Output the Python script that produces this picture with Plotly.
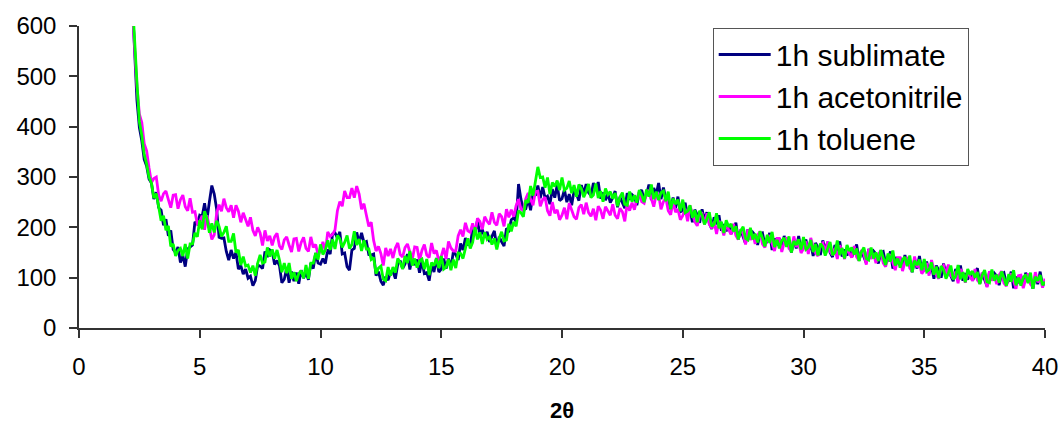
import numpy as np
import plotly.graph_objects as go

# 2-theta scan grid: 2.2 .. 40.0 deg, step 0.1
start_2theta = 2.2
step_2theta = 0.1

sublimate = [
    655, 548, 452, 398, 372, 335, 322, 296,
    288, 256, 270, 239, 234, 204, 216, 183, 194, 156,
    150, 161, 130, 144, 122, 157, 161, 165, 211, 207,
    224, 222, 248, 216, 251, 283, 266, 236, 180, 178,
    179, 152, 135, 155, 138, 150, 117, 124, 107, 117,
    99, 103, 84, 94, 125, 123, 118, 152, 141, 155,
    152, 126, 134, 124, 90, 97, 119, 90, 112, 93,
    110, 88, 115, 99, 110, 96, 129, 118, 149, 129,
    127, 138, 128, 156, 147, 187, 189, 179, 191, 147,
    149, 122, 115, 155, 158, 190, 169, 189, 170, 172,
    146, 145, 147, 104, 112, 93, 85, 102, 95, 112,
    112, 98, 127, 134, 118, 127, 147, 116, 141, 125,
    136, 110, 133, 108, 110, 94, 126, 111, 139, 111,
    117, 138, 118, 138, 120, 151, 146, 135, 168, 155,
    179, 166, 165, 196, 190, 214, 184, 196, 180, 191,
    171, 181, 193, 161, 181, 171, 163, 198, 194, 215,
    219, 211, 286, 256, 235, 237, 257, 234, 268, 263,
    283, 258, 280, 258, 262, 246, 276, 259, 284, 253,
    257, 275, 250, 266, 244, 273, 266, 253, 284, 267,
    286, 269, 263, 288, 274, 290, 257, 269, 254, 267,
    249, 259, 272, 240, 260, 249, 238, 268, 255, 265,
    260, 244, 269, 274, 255, 265, 285, 254, 278, 265,
    288, 256, 279, 256, 258, 236, 259, 238, 261, 231,
    233, 249, 223, 236, 210, 235, 225, 209, 236, 215,
    230, 208, 197, 220, 206, 224, 193, 206, 192, 205,
    187, 197, 209, 176, 195, 181, 168, 196, 181, 190,
    184, 165, 187, 189, 166, 172, 189, 155, 178, 164,
    178, 157, 183, 163, 168, 150, 176, 158, 183, 155,
    159, 176, 152, 168, 143, 169, 160, 145, 174, 154,
    171, 150, 141, 165, 153, 172, 142, 156, 144, 158,
    141, 152, 166, 134, 154, 141, 129, 157, 143, 153,
    147, 128, 150, 152, 129, 135, 152, 118, 141, 127,
    140, 119, 145, 125, 130, 111, 137, 118, 143, 114,
    115, 132, 108, 123, 98, 124, 115, 100, 128, 108,
    124, 103, 93, 117, 104, 124, 94, 109, 96, 111,
    94, 106, 119, 88, 108, 96, 83, 112, 99, 109,
    103, 85, 107, 110, 88, 94, 112, 79, 102, 89,
    104, 83, 110, 91, 96, 78, 105, 87, 112, 84,
    90,
]

acetonitrile = [
    640, 552, 480, 425, 408, 366, 352, 318,
    289, 297, 300, 264, 252, 267, 272, 255, 239, 264,
    265, 237, 255, 264, 241, 233, 258, 230, 231, 207,
    211, 223, 195, 224, 197, 176, 185, 228, 245, 232,
    257, 239, 231, 244, 219, 244, 232, 210, 229, 214,
    202, 220, 194, 183, 200, 189, 164, 194, 173, 183,
    164, 181, 188, 163, 156, 175, 181, 165, 151, 177,
    178, 152, 170, 180, 158, 152, 181, 160, 166, 145,
    154, 171, 152, 191, 182, 186, 195, 233, 251, 242,
    272, 259, 259, 278, 259, 282, 266, 236, 247, 224,
    202, 210, 174, 153, 162, 148, 124, 159, 143, 157,
    139, 159, 169, 146, 141, 160, 167, 151, 136, 161,
    160, 134, 154, 166, 145, 140, 169, 148, 154, 133,
    142, 159, 137, 172, 159, 153, 153, 183, 195, 182,
    209, 193, 190, 208, 188, 218, 212, 196, 221, 212,
    206, 230, 210, 204, 227, 221, 202, 236, 220, 235,
    221, 243, 256, 236, 234, 257, 268, 256, 244, 271,
    272, 242, 255, 260, 233, 223, 250, 228, 235, 215,
    224, 239, 216, 248, 232, 221, 216, 239, 245, 226,
    249, 229, 222, 237, 214, 242, 234, 217, 241, 231,
    224, 246, 224, 217, 238, 231, 212, 248, 233, 249,
    235, 257, 271, 251, 248, 268, 274, 257, 241, 265,
    265, 236, 251, 258, 233, 225, 252, 230, 236, 215,
    223, 237, 212, 243, 224, 211, 203, 224, 227, 206,
    228, 206, 198, 211, 187, 213, 203, 184, 205, 194,
    186, 207, 184, 176, 196, 188, 166, 196, 175, 186,
    167, 184, 192, 167, 160, 178, 184, 168, 153, 178,
    178, 151, 169, 180, 158, 153, 182, 161, 169, 149,
    158, 172, 147, 179, 161, 149, 143, 165, 169, 150,
    172, 152, 145, 159, 137, 164, 155, 137, 159, 148,
    140, 163, 141, 134, 155, 147, 126, 157, 137, 148,
    129, 146, 154, 129, 122, 140, 146, 130, 115, 140,
    140, 113, 131, 141, 119, 113, 142, 121, 128, 108,
    115, 129, 104, 135, 117, 105, 98, 120, 124, 104,
    126, 105, 98, 112, 89, 117, 108, 90, 112, 102,
    94, 117, 95, 89, 110, 103, 81, 113, 94, 105,
    87, 105, 113, 89, 83, 101, 108, 93, 78, 104,
    105, 79, 97, 108, 87, 82, 111, 91, 99, 80,
    98,
]

toluene = [
    662, 560, 488, 410, 383, 345, 326, 300,
    288, 258, 267, 241, 213, 223, 194, 203, 162, 167,
    143, 154, 158, 143, 167, 138, 167, 167, 189, 181,
    214, 196, 232, 217, 189, 208, 190, 213, 202, 182,
    190, 202, 172, 172, 188, 150, 155, 125, 142, 123,
    125, 110, 124, 104, 129, 145, 129, 131, 160, 142,
    156, 138, 155, 135, 111, 129, 109, 129, 98, 111,
    93, 108, 114, 99, 125, 98, 129, 129, 149, 136,
    166, 146, 155, 174, 155, 176, 157, 184, 177, 160,
    170, 184, 158, 166, 192, 165, 177, 153, 174, 157,
    157, 136, 140, 108, 119, 123, 97, 94, 121, 104,
    121, 110, 138, 130, 117, 143, 129, 153, 124, 138,
    120, 134, 137, 117, 137, 105, 130, 124, 138, 119,
    143, 117, 121, 136, 115, 136, 119, 149, 148, 138,
    156, 178, 158, 170, 200, 176, 190, 167, 190, 176,
    181, 166, 178, 156, 178, 191, 173, 175, 207, 192,
    211, 202, 233, 229, 221, 254, 249, 282, 263, 291,
    320, 299, 300, 279, 299, 266, 289, 281, 293, 274,
    299, 274, 278, 292, 268, 284, 261, 285, 277, 260,
    271, 286, 259, 264, 287, 258, 272, 251, 277, 265,
    271, 257, 268, 242, 260, 269, 246, 244, 271, 251,
    264, 249, 274, 264, 250, 275, 261, 285, 256, 271,
    254, 269, 272, 252, 271, 236, 257, 246, 255, 232,
    255, 229, 232, 244, 219, 234, 210, 233, 224, 206,
    216, 230, 202, 206, 228, 198, 211, 189, 214, 201,
    207, 192, 202, 176, 193, 201, 178, 175, 199, 176,
    187, 170, 192, 179, 162, 185, 169, 191, 161, 175,
    158, 174, 179, 161, 182, 150, 173, 165, 176, 156,
    181, 156, 160, 175, 151, 167, 144, 168, 161, 144,
    156, 171, 145, 150, 174, 145, 159, 138, 165, 153,
    160, 146, 158, 133, 151, 160, 138, 135, 160, 138,
    150, 133, 155, 142, 125, 148, 132, 154, 124, 138,
    120, 136, 141, 123, 144, 111, 134, 125, 136, 115,
    137, 112, 116, 130, 106, 122, 99, 123, 115, 98,
    109, 124, 97, 102, 125, 97, 111, 91, 117, 106,
    113, 100, 111, 87, 105, 115, 92, 90, 116, 94,
    106, 90, 112, 100, 84, 107, 92, 115, 85, 100,
    84, 100, 106, 89, 110, 78, 102, 94, 105, 85,
    92,
]

series_names = ["1h sublimate", "1h acetonitrile", "1h toluene"]
series_colors = ["#000080", "#FF00FF", "#00FF00"]
x_ticks = [0, 5, 10, 15, 20, 25, 30, 35, 40]
y_ticks = [0, 100, 200, 300, 400, 500, 600]

fig = go.Figure()
for i, (name, ys, col) in enumerate(zip(series_names, [sublimate, acetonitrile, toluene], series_colors)):
    xs = np.round(start_2theta + step_2theta * np.arange(len(ys)), 1)
    fig.add_trace(go.Scatter(
        x=xs, y=ys, mode="lines", name=name,
        line=dict(color=col, width=2.8),
        legendgroup=f"g{i}",
    ))

FONT = "Liberation Sans, Arial, sans-serif"
axis_font = dict(family=FONT, size=24, color="#000")

fig.update_layout(
    width=1063, height=425,
    margin=dict(l=79, r=18, t=26, b=97),
    paper_bgcolor="white", plot_bgcolor="white",
    showlegend=True,
    legend=dict(
        x=0.656, y=0.995, xanchor="left", yanchor="top",
        bgcolor="white", bordercolor="#555", borderwidth=1,
        font=dict(family=FONT, size=30, color="#000"),
        tracegroupgap=15,
        itemwidth=52,
        traceorder="normal",
    ),
    xaxis=dict(
        range=[0, 40], tickvals=x_ticks, ticktext=[str(v) for v in x_ticks],
        showgrid=False, zeroline=False, automargin=False,
        showline=True, linecolor="#333", linewidth=1.5,
        ticks="outside", ticklen=8, tickcolor="#333", tickwidth=1.5,
        tickfont=axis_font, ticklabelstandoff=8,
        title=dict(text="<b>2θ</b>", font=dict(family=FONT, size=22, color="#000"), standoff=24),
    ),
    yaxis=dict(
        range=[0, 600], tickvals=y_ticks, ticktext=[str(v) for v in y_ticks],
        showgrid=False, zeroline=False, automargin=False,
        showline=True, linecolor="#333", linewidth=1.5,
        ticks="outside", ticklen=8, tickcolor="#333", tickwidth=1.5,
        tickfont=axis_font, ticklabelstandoff=8,
    ),
)

fig.write_html("out.html")
